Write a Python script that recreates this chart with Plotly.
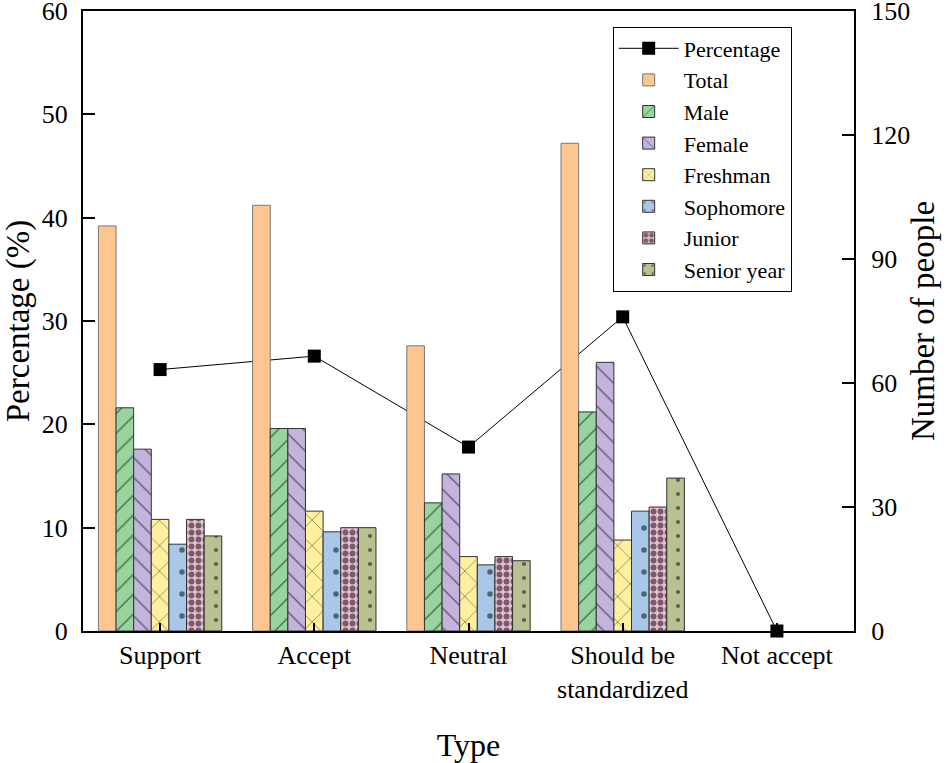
import plotly.graph_objects as go

categories = ["Support", "Accept", "Neutral", "Should be<br>standardized", "Not accept"]
percentage = [25.3, 26.6, 17.8, 30.4, 0.0]
total = [98, 103, 69, 118, 0]
male = [54, 49, 31, 53, 0]
female = [44, 49, 38, 65, 0]
freshman = [27, 29, 18, 22, 0]
sophomore = [21, 24, 16, 29, 0]
junior = [27, 25, 18, 30, 0]
senior = [23, 25, 17, 37, 0]

left_ticks = [0, 10, 20, 30, 40, 50, 60]
right_ticks = [0, 30, 60, 90, 120, 150]

FONT = "Liberation Serif"

fig = go.Figure()

fig.add_trace(go.Scatter(
    x=categories, y=percentage, name="Percentage", mode="lines+markers",
    line=dict(color="black", width=1),
    marker=dict(symbol="square", size=13, color="black"),
    cliponaxis=False, yaxis="y",
))

series = [
    ("Total", total, "#FDC590", "", 8, 0.3),
    ("Male", male, "#98D4A0", "/", 14, 0.1),
    ("Female", female, "#C3B3DD", "\\", 14, 0.1),
    ("Freshman", freshman, "#FFF0A0", "x", 18, 0.08),
    ("Sophomore", sophomore, "#A9C7E8", ".", 22, 0.05),
    ("Junior", junior, "#E9BCD3", ".", 7, 0.55),
    ("Senior year", senior, "#B9C092", ".", 14, 0.07),
]
for name, vals, color, shape, size, sol in series:
    fig.add_trace(go.Bar(
        x=categories, y=vals, name=name, yaxis="y2",
        marker=dict(
            color=color,
            line=dict(color="#333333" if shape else "#777777",
                      width=[1 if v else 0 for v in vals]),
            pattern=dict(shape=shape, fgcolor="black", size=size, solidity=sol),
        ),
    ))

fig.update_layout(
    width=950, height=763,
    margin=dict(l=83, r=96, t=11, b=132),
    paper_bgcolor="white", plot_bgcolor="white",
    font=dict(family=FONT, size=26, color="black"),
    barmode="group", bargap=0.2, bargroupgap=0,
    showlegend=True,
    legend=dict(
        x=0.687, y=0.975, xanchor="left", yanchor="top",
        bgcolor="white", bordercolor="black", borderwidth=1,
        font=dict(family=FONT, size=22), tracegroupgap=0, itemwidth=60,
    ),
    xaxis=dict(
        title=dict(text="Type", font=dict(family=FONT, size=32), standoff=32),
        range=[-0.5, 4.5], showline=True, linecolor="black", linewidth=2,
        mirror=True, ticks="inside", ticklen=8, tickwidth=1.5, tickcolor="black",
        tickfont=dict(family=FONT, size=26), automargin=False,
    ),
    yaxis=dict(
        title=dict(text="Percentage (%)", font=dict(family=FONT, size=33), standoff=15),
        range=[0, 60], tickvals=left_ticks, showline=True, linecolor="black",
        linewidth=2, ticks="inside", ticklen=12, tickwidth=2, tickcolor="black",
        showgrid=False, zeroline=False, automargin=False,
        tickfont=dict(family=FONT, size=26), ticklabelstandoff=8,
        ticklabeloverflow="allow",
    ),
    yaxis2=dict(
        title=dict(text="Number of people", font=dict(family=FONT, size=33), standoff=2),
        range=[0, 150], tickvals=right_ticks, overlaying="y", side="right",
        showline=True, linecolor="black", linewidth=2, ticks="inside",
        ticklen=12, tickwidth=2, tickcolor="black", showgrid=False,
        zeroline=False, automargin=False,
        tickfont=dict(family=FONT, size=26), ticklabelstandoff=10,
        ticklabeloverflow="allow",
    ),
)

fig.write_html("out.html", config={"displayModeBar": False},
               post_script="document.body.style.margin='0';")
